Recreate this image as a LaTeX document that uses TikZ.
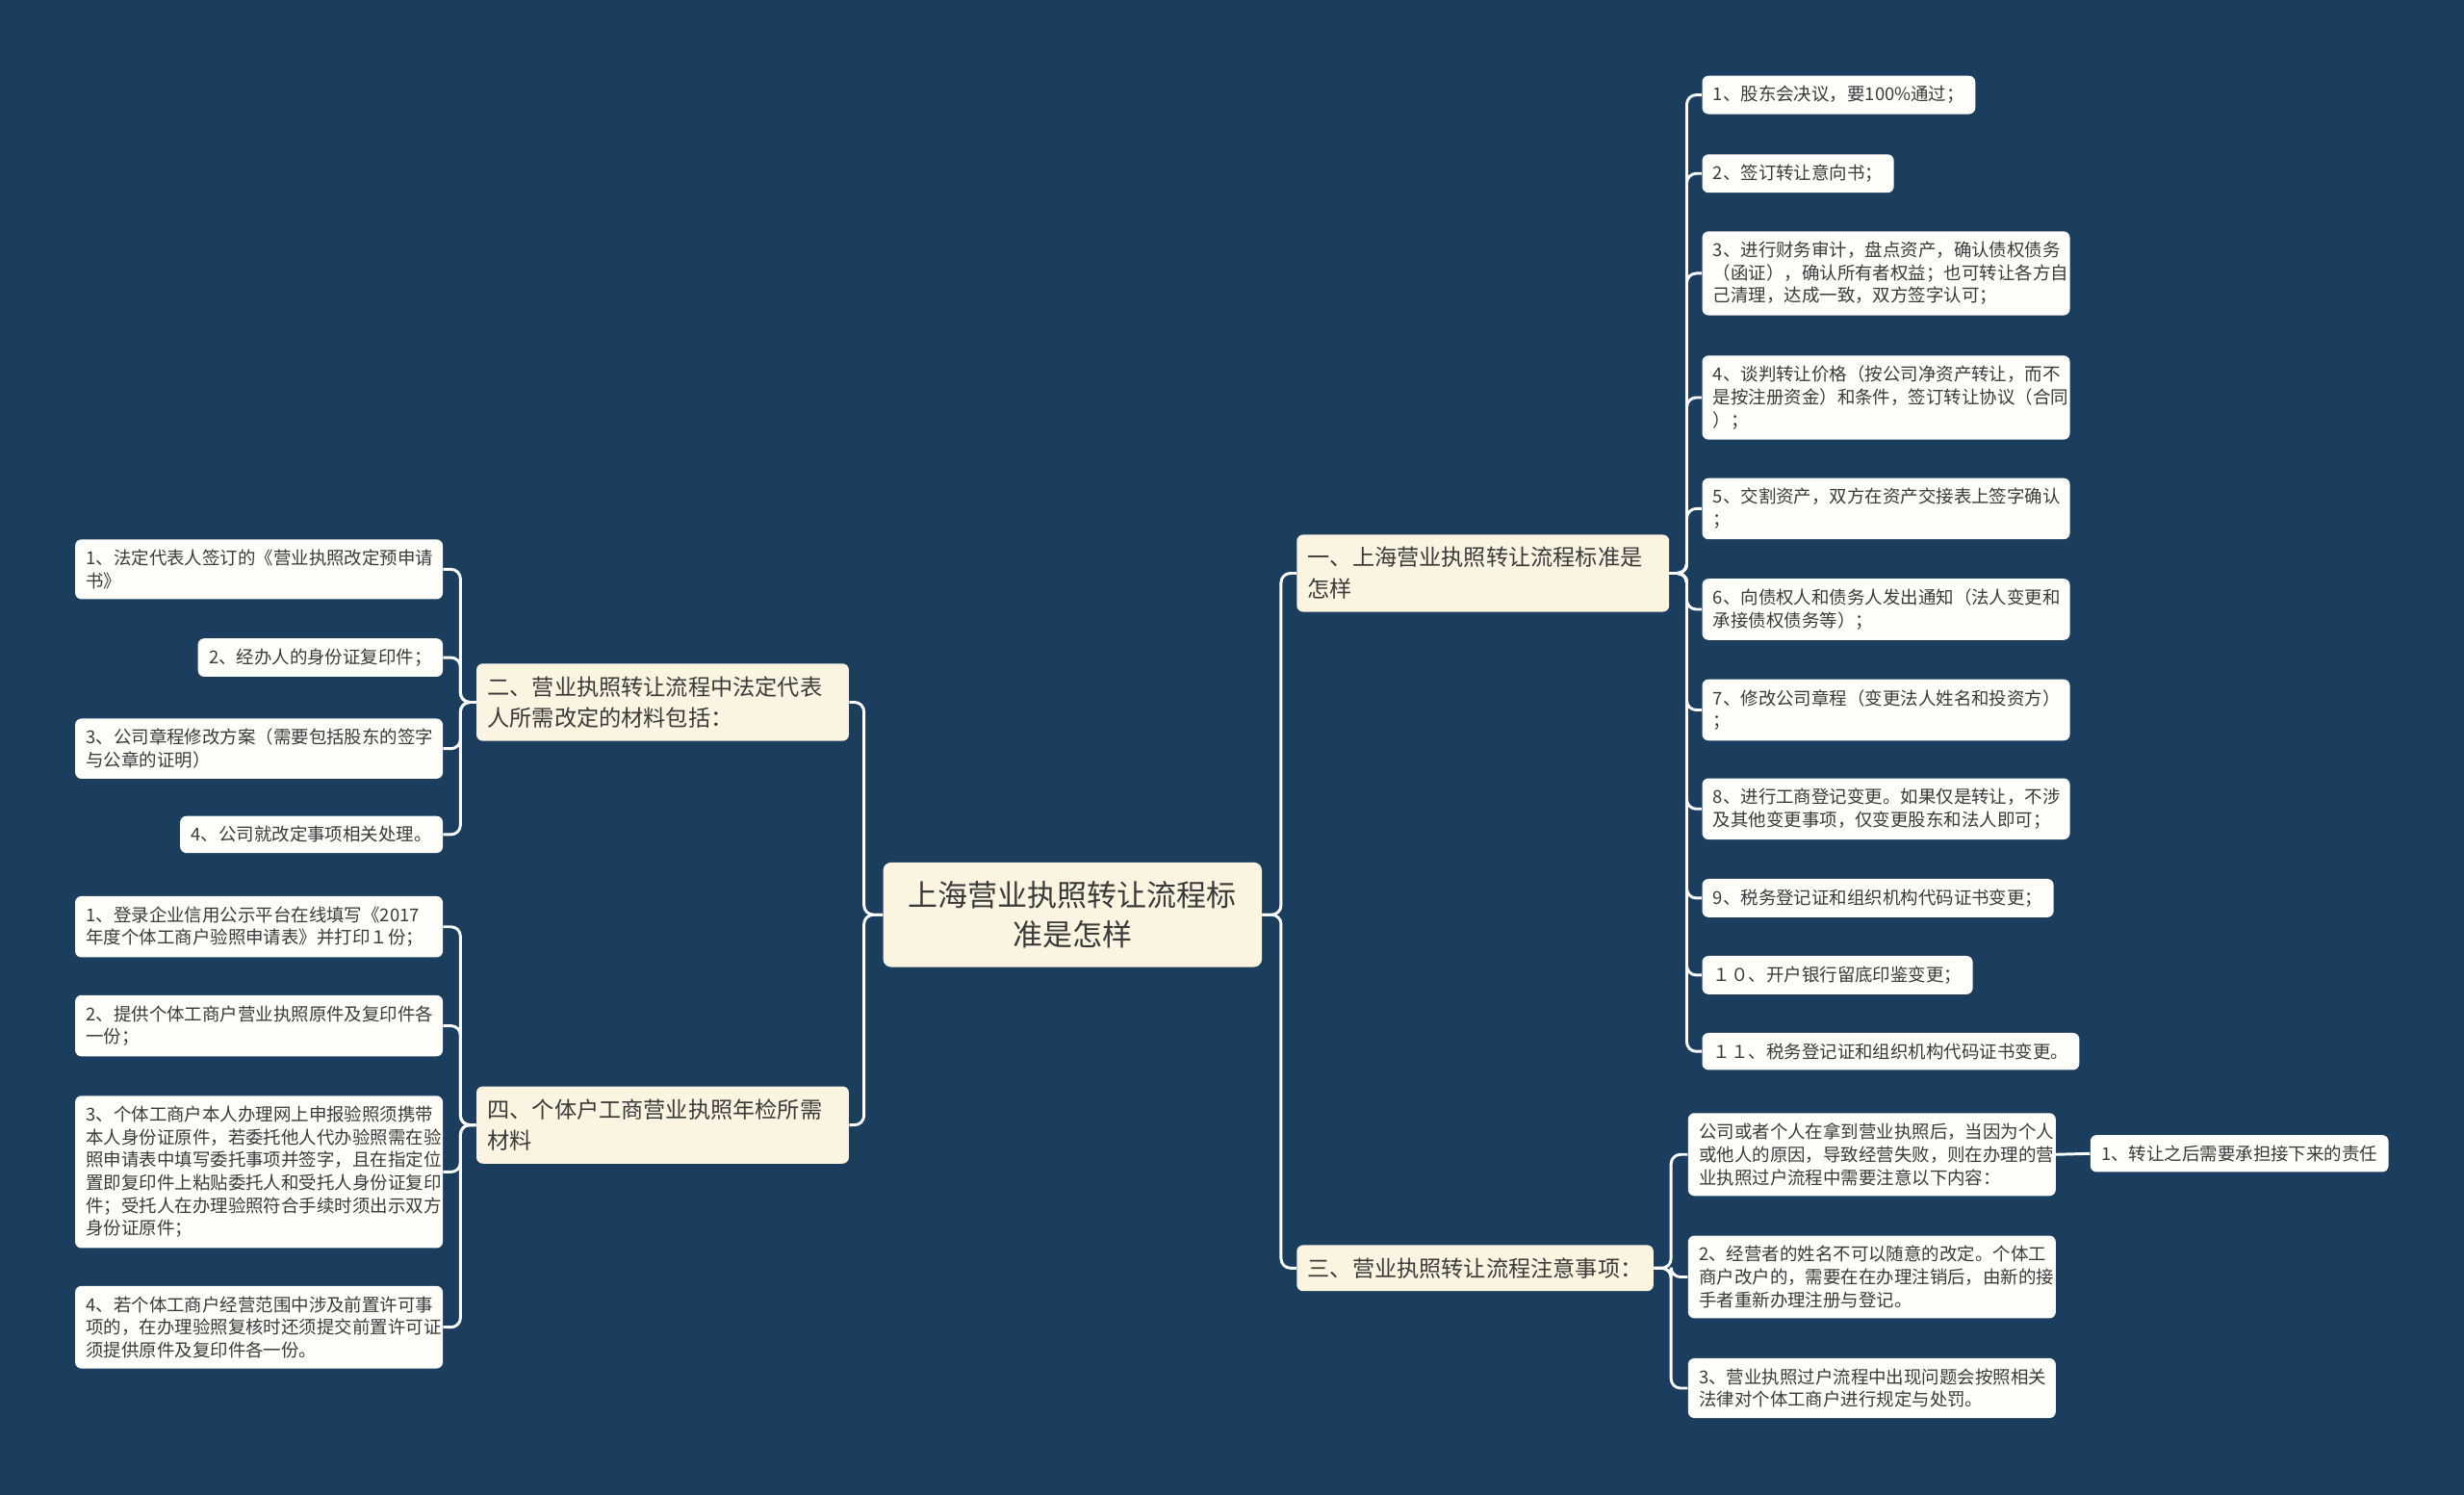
\documentclass[tikz,border=0pt]{standalone}
\usepackage{fontspec}
\setmainfont{Noto Sans CJK SC}
\usepackage{xcolor}
\definecolor{bgblue}{HTML}{1B3D5E}
\definecolor{cream}{HTML}{FAF4E1}
\definecolor{paper}{HTML}{FFFEFA}
\definecolor{ink}{HTML}{3A3A3A}
\tikzset{
  rootbox/.style={fill=cream, rounded corners=5pt, align=center, text width=217pt,
    inner xsep=12pt, inner ysep=12pt, font=\fontsize{19}{25}\selectfont, text=ink},
  topicbox/.style={fill=cream, rounded corners=4pt, align=left, inner xsep=7pt,
    inner ysep=8pt, font=\fontsize{14.2}{20}\selectfont, text=ink},
  leafbox/.style={fill=paper, rounded corners=4pt, align=left, inner xsep=7pt,
    inner ysep=6.5pt, font=\fontsize{11.3}{14.5}\selectfont, text=ink},
  wide/.style={text width=220pt},
  link/.style={draw=white, line width=1.8pt, rounded corners=6pt}
}
\begin{document}
\begin{tikzpicture}[x=1pt,y=-1pt]
		\useasboundingbox (0,0) rectangle (1568,951);
		\fill[bgblue] (0,0) rectangle (1568,951);
		% root
		\node[rootbox] (root) at (682.5,582) {上海营业执照转让流程标\\准是怎样};
		% main topics
		\node[topicbox, text width=223pt, anchor=north west] (one) at (825,340) {一、上海营业执照转让流程标准是\\怎样};
		\node[topicbox, anchor=north west] (three) at (825,792) {三、营业执照转让流程注意事项：};
		\node[topicbox, text width=223pt, anchor=north west] (two) at (303,422) {二、营业执照转让流程中法定代表\\人所需改定的材料包括：};
		\node[topicbox, text width=223pt, anchor=north west] (four) at (303,691) {四、个体户工商营业执照年检所需\\材料};
		% steps of topic one
		\node[leafbox, anchor=north west] (r1) at (1083,48) {1、股东会决议，要100\%通过；};
		\node[leafbox, anchor=north west] (r2) at (1083,98) {2、签订转让意向书；};
		\node[leafbox, wide, anchor=north west] (r3) at (1083,147) {3、进行财务审计，盘点资产，确认债权债务\\（函证），确认所有者权益；也可转让各方自\\己清理，达成一致，双方签字认可；};
		\node[leafbox, wide, anchor=north west] (r4) at (1083,226) {4、谈判转让价格（按公司净资产转让，而不\\是按注册资金）和条件，签订转让协议（合同\\）；};
		\node[leafbox, wide, anchor=north west] (r5) at (1083,304) {5、交割资产，双方在资产交接表上签字确认\\；};
		\node[leafbox, wide, anchor=north west] (r6) at (1083,368) {6、向债权人和债务人发出通知（法人变更和\\承接债权债务等）；};
		\node[leafbox, wide, anchor=north west] (r7) at (1083,432) {7、修改公司章程（变更法人姓名和投资方）\\；};
		\node[leafbox, wide, anchor=north west] (r8) at (1083,495) {8、进行工商登记变更。如果仅是转让，不涉\\及其他变更事项，仅变更股东和法人即可；};
		\node[leafbox, anchor=north west] (r9) at (1083,559) {9、税务登记证和组织机构代码证书变更；};
		\node[leafbox, anchor=north west] (r10) at (1083,608) {１０、开户银行留底印鉴变更；};
		\node[leafbox, anchor=north west] (r11) at (1083,657) {１１、税务登记证和组织机构代码证书变更。};
		% notes of topic three
		\node[leafbox, wide, anchor=north west] (s1) at (1074,708) {公司或者个人在拿到营业执照后，当因为个人\\或他人的原因，导致经营失败，则在办理的营\\业执照过户流程中需要注意以下内容：};
		\node[leafbox, anchor=north west] (s1a) at (1330,722) {1、转让之后需要承担接下来的责任};
		\node[leafbox, wide, anchor=north west] (s2) at (1074,786) {2、经营者的姓名不可以随意的改定。个体工\\商户改户的，需要在在办理注销后，由新的接\\手者重新办理注册与登记。};
		\node[leafbox, wide, anchor=north west] (s3) at (1074,864) {3、营业执照过户流程中出现问题会按照相关\\法律对个体工商户进行规定与处罚。};
		% materials of topic two
		\node[leafbox, wide, anchor=north east] (l1) at (282,343) {1、法定代表人签订的《营业执照改定预申请\\书》};
		\node[leafbox, anchor=north east] (l2) at (282,406) {2、经办人的身份证复印件；};
		\node[leafbox, wide, anchor=north east] (l3) at (282,457) {3、公司章程修改方案（需要包括股东的签字\\与公章的证明）};
		\node[leafbox, anchor=north east] (l4) at (282,519) {4、公司就改定事项相关处理。};
		% materials of topic four
		\node[leafbox, wide, anchor=north east] (m1) at (282,570) {1、登录企业信用公示平台在线填写《2017\\年度个体工商户验照申请表》并打印１份；};
		\node[leafbox, wide, anchor=north east] (m2) at (282,633) {2、提供个体工商户营业执照原件及复印件各\\一份；};
		\node[leafbox, wide, anchor=north east] (m3) at (282,697) {3、个体工商户本人办理网上申报验照须携带\\本人身份证原件，若委托他人代办验照需在验\\照申请表中填写委托事项并签字，且在指定位\\置即复印件上粘贴委托人和受托人身份证复印\\件；受托人在办理验照符合手续时须出示双方\\身份证原件；};
		\node[leafbox, wide, anchor=north east] (m4) at (282,818) {4、若个体工商户经营范围中涉及前置许可事\\项的，在办理验照复核时还须提交前置许可证\\须提供原件及复印件各一份。};
		% links from root
		\draw[link] (root.east) -- ++(12,0) |- (one.west);
		\draw[link] (root.east) -- ++(12,0) |- (three.west);
		\draw[link] (root.west) -- ++(-12,0) |- (two.east);
		\draw[link] (root.west) -- ++(-12,0) |- (four.east);
		% links of topic one
		\draw[link] (one.east) -- ++(11,0) |- (r1.west);
		\draw[link] (one.east) -- ++(11,0) |- (r2.west);
		\draw[link] (one.east) -- ++(11,0) |- (r3.west);
		\draw[link] (one.east) -- ++(11,0) |- (r4.west);
		\draw[link] (one.east) -- ++(11,0) |- (r5.west);
		\draw[link] (one.east) -- ++(11,0) |- (r6.west);
		\draw[link] (one.east) -- ++(11,0) |- (r7.west);
		\draw[link] (one.east) -- ++(11,0) |- (r8.west);
		\draw[link] (one.east) -- ++(11,0) |- (r9.west);
		\draw[link] (one.east) -- ++(11,0) |- (r10.west);
		\draw[link] (one.east) -- ++(11,0) |- (r11.west);
		% links of topic three
		\draw[link] (three.east) -- ++(11,0) |- (s1.west);
		\draw[link] (three.east) -- ++(11,0) |- (s2.west);
		\draw[link] (three.east) -- ++(11,0) |- (s3.west);
		\draw[link] (s1.east) -- (s1a.west);
		% links of topic two
		\draw[link] (two.west) -- ++(-10,0) |- (l1.east);
		\draw[link] (two.west) -- ++(-10,0) |- (l2.east);
		\draw[link] (two.west) -- ++(-10,0) |- (l3.east);
		\draw[link] (two.west) -- ++(-10,0) |- (l4.east);
		% links of topic four
		\draw[link] (four.west) -- ++(-10,0) |- (m1.east);
		\draw[link] (four.west) -- ++(-10,0) |- (m2.east);
		\draw[link] (four.west) -- ++(-10,0) |- (m3.east);
		\draw[link] (four.west) -- ++(-10,0) |- (m4.east);
	\end{tikzpicture}
\end{document}
